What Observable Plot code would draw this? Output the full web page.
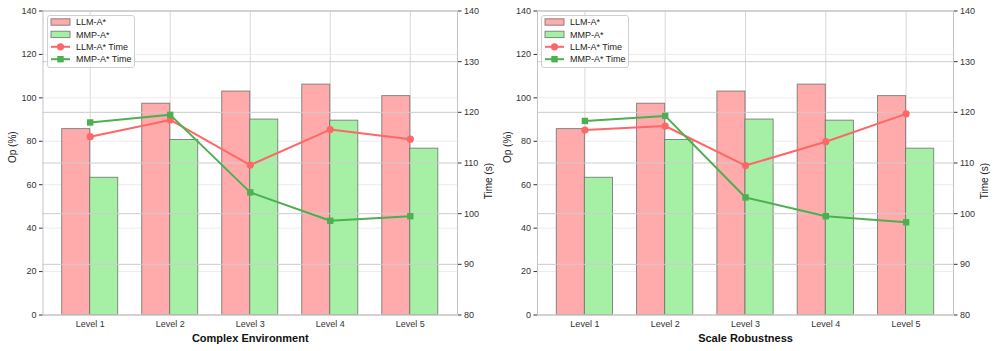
<!DOCTYPE html>
<html><head><meta charset="utf-8">
<script src="https://cdn.jsdelivr.net/npm/d3@7"></script>
<script src="https://cdn.jsdelivr.net/npm/@observablehq/plot@0.6"></script>
<style>
body{margin:0;background:#fff;font-family:"Liberation Sans",Arial,sans-serif;}
#wrap{display:flex;width:996px;height:351px;overflow:hidden;}
.panel{position:relative;width:498px;height:351px;}
.panel svg.leg{position:absolute;}
</style></head><body><div id="wrap"></div>
<script>
const levels = ["Level 1", "Level 2", "Level 3", "Level 4", "Level 5"];
const seriesNames = ["LLM-A*", "MMP-A*", "LLM-A* Time", "MMP-A* Time"];
const titles = ["Complex Environment", "Scale Robustness"];

const opLLM_complex = [85.6, 97.3, 102.9, 106.1, 100.8];
const opMMP_complex = [63.2, 80.6, 90.0, 89.5, 76.6];
const timeLLM_complex = [115.2, 118.5, 109.6, 116.6, 114.7];
const timeMMP_complex = [118.0, 119.5, 104.2, 98.6, 99.5];

const opLLM_scale = [85.6, 97.3, 102.9, 106.1, 100.8];
const opMMP_scale = [63.2, 80.6, 90.0, 89.5, 76.6];
const timeLLM_scale = [116.5, 117.3, 109.5, 114.2, 119.7];
const timeMMP_scale = [118.3, 119.3, 103.2, 99.5, 98.3];

const opTicks = [0, 20, 40, 60, 80, 100, 120, 140];
const timeTicks = [80, 90, 100, 110, 120, 130, 140];

const OP_MAX = 140, T_MIN = 80, T_MAX = 140;
const t2op = t => (t - T_MIN) * OP_MAX / (T_MAX - T_MIN);
const op2t = v => T_MIN + v * (T_MAX - T_MIN) / OP_MAX;

const C = {llmFill: "#ffabab", mmpFill: "#a6f0a6", llmLine: "#ff6666", mmpLine: "#4caf50", edge: "#6a6a6a"};
const W = 0.35;

function panel(title, opL, opM, tL, tM, mL, mR) {
  const bars = [];
  levels.forEach((lv, i) => {
    bars.push({i, v: opL[i], s: 0});
    bars.push({i, v: opM[i], s: 1});
  });
  const lineL = levels.map((lv, i) => ({i, t: tL[i]}));
  const lineM = levels.map((lv, i) => ({i, t: tM[i]}));
  const idx = levels.map((d, i) => i);

  const svg = Plot.plot({
    width: 498, height: 351,
    marginLeft: mL, marginRight: mR, marginTop: 10.5, marginBottom: 36.5,
    style: {fontFamily: '"Liberation Sans", Arial, sans-serif', fontSize: "9px", color: "#333", background: "#fff"},
    x: {type: "linear", domain: [-0.59, 4.59]},
    y: {domain: [0, OP_MAX]},
    marks: [
      Plot.gridX(idx, {stroke: "#d8d8d8", strokeOpacity: 1}),
      Plot.gridY(opTicks, {stroke: "#ececec", strokeOpacity: 1}),
      Plot.rect(bars, {
        x1: d => d.s === 0 ? d.i - W : d.i,
        x2: d => d.s === 0 ? d.i : d.i + W,
        y1: 0, y2: "v",
        fill: d => d.s === 0 ? C.llmFill : C.mmpFill,
        stroke: C.edge, strokeWidth: 0.9, strokeOpacity: 0.85
      }),
      Plot.gridY(timeTicks.map(t2op), {stroke: "#cccccc", strokeOpacity: 1, strokeWidth: 1}),
      Plot.line(lineL, {x: "i", y: d => t2op(d.t), stroke: C.llmLine, strokeWidth: 2}),
      Plot.dot(lineL, {x: "i", y: d => t2op(d.t), symbol: "circle", r: 3.6, fill: C.llmLine}),
      Plot.line(lineM, {x: "i", y: d => t2op(d.t), stroke: C.mmpLine, strokeWidth: 2}),
      Plot.dot(lineM, {x: "i", y: d => t2op(d.t), symbol: "square", r: 3.6, fill: C.mmpLine}),
      Plot.frame({stroke: "#c4c4c4"}),
      Plot.axisX(idx, {tickFormat: i => levels[i], tickSize: 0, tickPadding: 6, label: null, fontSize: 9}),
      Plot.axisY(opTicks, {anchor: "left", tickSize: 3.5, tickPadding: 3, label: null, fontSize: 9}),
      Plot.axisY(timeTicks.map(t2op), {anchor: "right", tickFormat: v => String(Math.round(op2t(v))), tickSize: 3.5, tickPadding: 3, label: null, fontSize: 9}),
      Plot.text(["Op (%)"], {frameAnchor: "left", dx: -30, rotate: -90, fontSize: 10, fill: "#222", text: d => d}),
      Plot.text(["Time (s)"], {frameAnchor: "right", dx: 31, rotate: -90, fontSize: 10, fill: "#222", text: d => d}),
      Plot.text([title], {frameAnchor: "bottom", dy: 26.5, fontSize: 11, fontWeight: "bold", fill: "#111", text: d => d})
    ]
  });

  const div = document.createElement("div");
  div.className = "panel";
  div.appendChild(svg);

  // legend
  const lw = 88, lh = 53;
  const leg = d3.create("svg").attr("class", "leg").attr("width", lw).attr("height", lh)
    .style("left", (mL + 4) + "px").style("top", "15px");
  leg.append("rect").attr("x", 0.5).attr("y", 0.5).attr("width", lw - 1).attr("height", lh - 1)
    .attr("rx", 2.5).attr("fill", "rgba(255,255,255,0.85)").attr("stroke", "#cfcfcf");
  const rows = [7, 19.4, 31.8, 44.2];
  const px0 = 4, px1 = 23, tx = 29;
  seriesNames.forEach((name, k) => {
    const y = rows[k];
    if (k < 2) {
      leg.append("rect").attr("x", px0).attr("y", y - 3.2).attr("width", px1 - px0).attr("height", 6.4)
        .attr("fill", k === 0 ? C.llmFill : C.mmpFill).attr("stroke", C.edge).attr("stroke-width", 0.9).attr("stroke-opacity", 0.85);
    } else {
      const col = k === 2 ? C.llmLine : C.mmpLine;
      leg.append("line").attr("x1", px0).attr("x2", px1).attr("y1", y).attr("y2", y).attr("stroke", col).attr("stroke-width", 2);
      const cx = (px0 + px1) / 2;
      if (k === 2) leg.append("circle").attr("cx", cx).attr("cy", y).attr("r", 3.6).attr("fill", col);
      else leg.append("rect").attr("x", cx - 3.2).attr("y", y - 3.2).attr("width", 6.4).attr("height", 6.4).attr("fill", col);
    }
    leg.append("text").attr("x", tx).attr("y", y).attr("dy", "0.35em").attr("font-size", 9)
      .attr("font-family", '"Liberation Sans", Arial, sans-serif').attr("fill", "#222").text(name);
  });
  div.appendChild(leg.node());
  return div;
}

const wrap = document.getElementById("wrap");
wrap.appendChild(panel(titles[0], opLLM_complex, opMMP_complex, timeLLM_complex, timeMMP_complex, 42.5, 41));
wrap.appendChild(panel(titles[1], opLLM_scale, opMMP_scale, timeLLM_scale, timeMMP_scale, 39, 43));
</script></body></html>
